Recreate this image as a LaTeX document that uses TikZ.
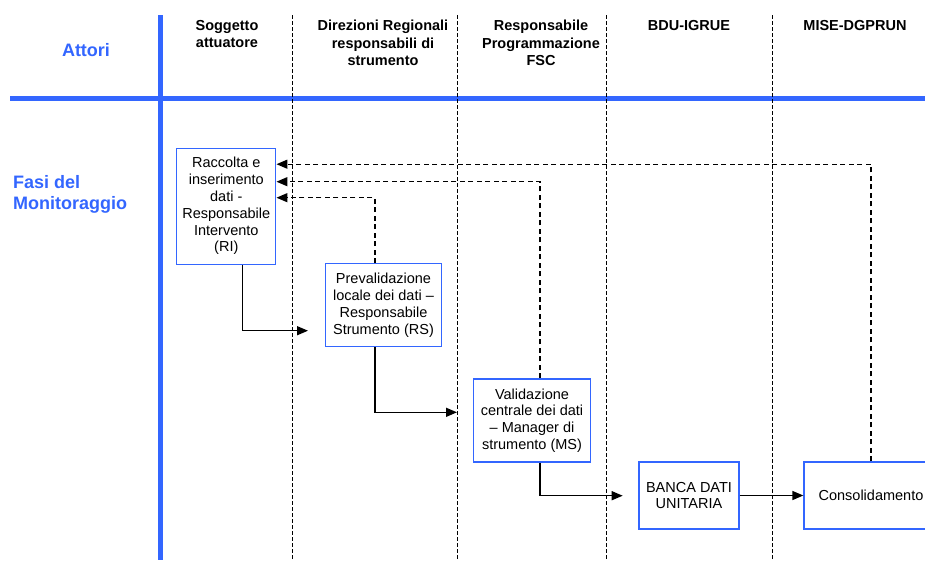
\documentclass[tikz,border=0pt]{standalone}
\usepackage{fontspec}
\setmainfont{Liberation Sans}
\usetikzlibrary{arrows.meta}
\definecolor{fasiblu}{RGB}{51,102,255}
\tikzset{%
    fase/.style={draw=fasiblu, line width=1.3pt, fill=white, align=center,
        inner sep=0pt, font=\fontsize{14.5}{16.8}\selectfont},
    attore/.style={anchor=north, align=center, inner sep=0pt,
        font=\fontsize{14.5}{17.3}\selectfont\bfseries},
    titolo/.style={text=fasiblu, align=left, inner sep=0pt,
        font=\fontsize{18}{21.6}\selectfont\bfseries},
    asse/.style={fasiblu, line width=5pt},
    corsia/.style={line width=0.8pt, dash pattern=on 4pt off 2pt},
    flusso/.style={line width=1.4pt, -{Triangle[length=11pt,width=9pt]}},
    ritorno/.style={flusso, dash pattern=on 5pt off 3.5pt}
}

\begin{document}
\begin{tikzpicture}[x=1pt, y=-1pt]
  \clip (0,0) rectangle (925,560);

  \draw[asse] (10,98) -- (925,98);
  \draw[asse] (160,15) -- (160,560);
  \foreach \x in {292,457,606,772}
    \draw[corsia] (\x,15) -- (\x,560);

  \node (attori) [titolo, anchor=base] at (86,56) {Attori};
  \node (fasi) [titolo, anchor=north west] at (13,175) {Fasi del\\Monitoraggio};

  \node (sa) [attore] at (227,20) {Soggetto\\attuatore};
  \node (dr) [attore] at (383,20) {Direzioni Regionali\\responsabili di\\strumento};
  \node (rp) [attore] at (541,20) {Responsabile\\Programmazione\\FSC};
  \node (bi) [attore] at (689,20) {BDU-IGRUE};
  \node (md) [attore] at (855,20) {MISE-DGPRUN};

  \node (ri) [fase, minimum width=99pt, minimum height=116pt] at (226.3,206.2)
    {Raccolta e\\inserimento\\dati -\\Responsabile\\Intervento\\(RI)};
  \node (rs) [fase, minimum width=116pt, minimum height=83pt] at (383.5,305.3)
    {Prevalidazione\\locale dei dati \textendash\\Responsabile\\Strumento (RS)};
  \node (ms) [fase, minimum width=117pt, minimum height=83pt] at (532,420.5)
    {Validazione\\centrale dei dati\\\textendash{} Manager di\\strumento (MS)};
  \node (bdu) [fase, minimum width=100pt, minimum height=67pt] at (689,495.5)
    {BANCA DATI\\UNITARIA};
  \node (cons) [fase, minimum width=134pt, minimum height=67pt] at (871,495.5)
    {Consolidamento};

  \coordinate (a1) at (308,330.7);
  \coordinate (a2) at (457,412.3);
  \coordinate (a3) at (622.7,495.7);

  \draw[flusso] ([xshift=16pt]ri.south) |- (a1);
  \draw[flusso] ([xshift=-8.5pt]rs.south) |- (a2);
  \draw[flusso] ([xshift=8pt]ms.south) |- (a3);
  \draw[flusso] (bdu.east) -- (cons.west);

  \draw[ritorno] (cons.north) |- ([yshift=42pt]ri.east);
  \draw[ritorno] ([xshift=8pt]ms.north) |- ([yshift=24.5pt]ri.east);
  \draw[ritorno] ([xshift=-8.5pt]rs.north) |- ([yshift=8.5pt]ri.east);
\end{tikzpicture}
\end{document}
